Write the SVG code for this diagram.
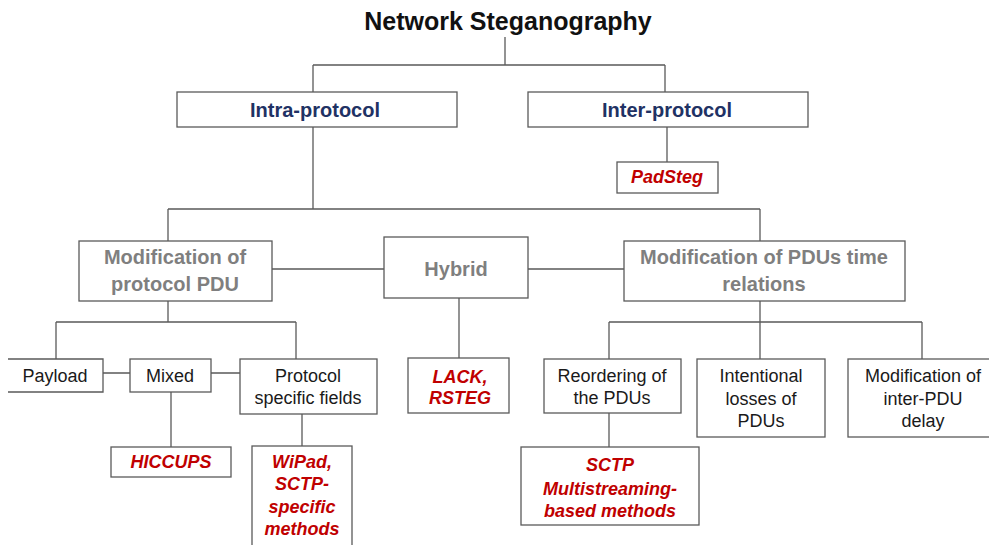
<svg xmlns="http://www.w3.org/2000/svg" width="989" height="545" viewBox="0 0 989 545">
  <style>
    .box { fill: #ffffff; stroke: #5a5a5a; stroke-width: 1.3; }
    .wire { fill: none; stroke: #5a5a5a; stroke-width: 1.3; }
    text { font-family: "Liberation Sans", Arial, sans-serif; text-anchor: middle; }
    .title { font-size: 25px; font-weight: bold; fill: #111111; }
    .l1 { font-size: 20px; font-weight: bold; fill: #1f3264; }
    .l2 { font-size: 20px; font-weight: bold; fill: #7f7f7f; }
    .l3 { font-size: 18px; fill: #1a1a1a; }
    .ex { font-size: 18px; font-weight: bold; font-style: italic; fill: #c00000; }
  </style>

  <rect width="989" height="545" fill="#ffffff"/>

  <!-- connectors -->
  <g id="connectors" class="wire">
    <path d="M505 37 V65 M313 65 H665 M313 65 V92 M665 65 V92"/>
    <path d="M667 127 V162"/>
    <path d="M313 127 V209 M168 209 H760 M168 209 V241 M760 209 V241"/>
    <path d="M272 269 H384 M528 269 H624"/>
    <path d="M459 298 V358"/>
    <path d="M168 301 V322 M56 322 H296 M56 322 V359 M296 322 V359"/>
    <path d="M103 373 H130 M211 373 H240"/>
    <path d="M171 392 V447 M302 414 V446"/>
    <path d="M760 301 V322 M609 322 H922 M609 322 V359 M760 322 V359 M922 322 V359"/>
    <path d="M609 413 V447"/>
  </g>

  <g id="title">
    <text class="title" x="508" y="30">Network Steganography</text>
  </g>

  <g id="intra-protocol">
    <rect class="box" x="177" y="92" width="280" height="35"/>
    <text class="l1" x="315" y="117">Intra-protocol</text>
  </g>

  <g id="inter-protocol">
    <rect class="box" x="528" y="92" width="280" height="35"/>
    <text class="l1" x="667" y="117">Inter-protocol</text>
  </g>

  <g id="padsteg">
    <rect class="box" x="617" y="162" width="101" height="31"/>
    <text class="ex" x="667" y="183">PadSteg</text>
  </g>

  <g id="mod-protocol-pdu">
    <rect class="box" x="79" y="241" width="193" height="60"/>
    <text class="l2" x="175" y="264">Modification of</text>
    <text class="l2" x="175" y="291">protocol PDU</text>
  </g>

  <g id="hybrid">
    <rect class="box" x="384" y="237" width="144" height="61"/>
    <text class="l2" x="456" y="276">Hybrid</text>
  </g>

  <g id="mod-time-relations">
    <rect class="box" x="624" y="241" width="281" height="60"/>
    <text class="l2" x="764" y="264">Modification of PDUs time</text>
    <text class="l2" x="764" y="291">relations</text>
  </g>

  <g id="payload">
    <!-- left side runs off the page edge -->
    <path class="box" d="M8 359 H103 V392 H8"/>
    <text class="l3" x="55" y="382">Payload</text>
  </g>

  <g id="mixed">
    <rect class="box" x="130" y="359" width="81" height="33"/>
    <text class="l3" x="170" y="382">Mixed</text>
  </g>

  <g id="protocol-fields">
    <rect class="box" x="240" y="359" width="137" height="55"/>
    <text class="l3" x="308" y="382">Protocol</text>
    <text class="l3" x="308" y="404">specific fields</text>
  </g>

  <g id="lack-rsteg">
    <rect class="box" x="408" y="358" width="101" height="55"/>
    <text class="ex" x="460" y="383">LACK,</text>
    <text class="ex" x="460" y="404">RSTEG</text>
  </g>

  <g id="hiccups">
    <rect class="box" x="111" y="447" width="120" height="30"/>
    <text class="ex" x="171" y="468">HICCUPS</text>
  </g>

  <g id="wipad">
    <rect class="box" x="252" y="446" width="100" height="104"/>
    <text class="ex" x="302" y="468">WiPad,</text>
    <text class="ex" x="302" y="490">SCTP-</text>
    <text class="ex" x="302" y="513">specific</text>
    <text class="ex" x="302" y="535">methods</text>
  </g>

  <g id="reordering">
    <rect class="box" x="544" y="359" width="137" height="54"/>
    <text class="l3" x="612" y="382">Reordering of</text>
    <text class="l3" x="612" y="404">the PDUs</text>
  </g>

  <g id="intentional-losses">
    <rect class="box" x="697" y="359" width="128" height="78"/>
    <text class="l3" x="761" y="382">Intentional</text>
    <text class="l3" x="761" y="405">losses of</text>
    <text class="l3" x="761" y="427">PDUs</text>
  </g>

  <g id="inter-pdu-delay">
    <rect class="box" x="848" y="359" width="150" height="78"/>
    <text class="l3" x="923" y="382">Modification of</text>
    <text class="l3" x="923" y="405">inter-PDU</text>
    <text class="l3" x="923" y="427">delay</text>
  </g>

  <g id="sctp-multistreaming">
    <rect class="box" x="521" y="447" width="178" height="78"/>
    <text class="ex" x="610" y="471">SCTP</text>
    <text class="ex" x="610" y="495">Multistreaming-</text>
    <text class="ex" x="610" y="517">based methods</text>
  </g>
</svg>
